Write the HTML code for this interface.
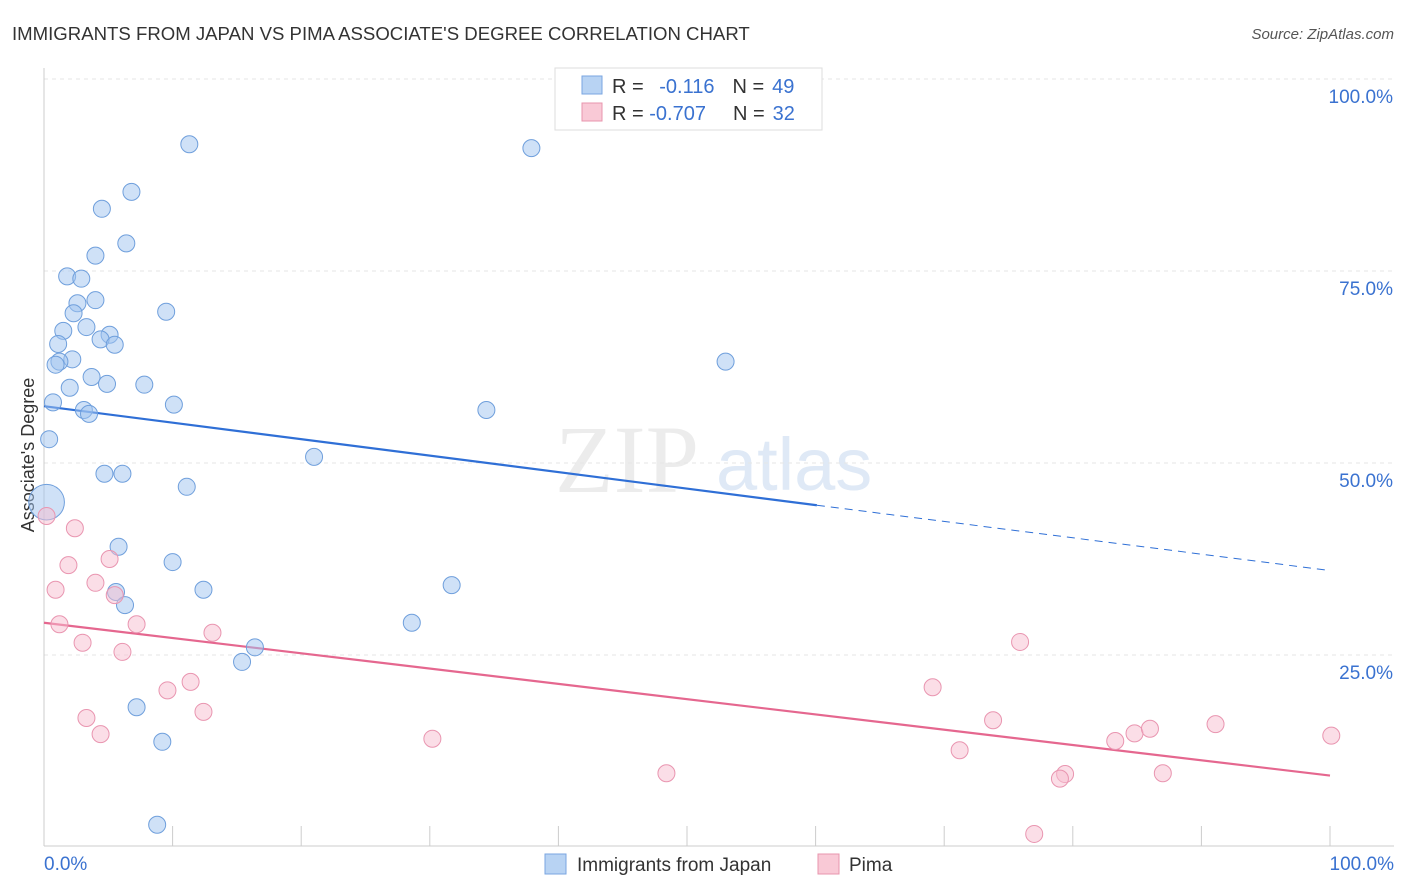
<!DOCTYPE html>
<html><head><meta charset="utf-8">
<style>
body{margin:0;background:#fff;font-family:"Liberation Sans",sans-serif;}
#wrap{position:relative;width:1406px;height:892px;overflow:hidden;}
</style></head>
<body>
<div id="wrap">
<svg id="chart" width="1406" height="892" xmlns="http://www.w3.org/2000/svg">
  <text x="12" y="40" font-size="18.6" fill="#333">IMMIGRANTS FROM JAPAN VS PIMA ASSOCIATE'S DEGREE CORRELATION CHART</text>
  <text x="1394" y="39" font-size="15" fill="#555" font-style="italic" text-anchor="end">Source: ZipAtlas.com</text>
  <text x="34" y="455" font-size="18" fill="#333" text-anchor="middle" transform="rotate(-90 34 455)">Associate's Degree</text>
  <g>
    <text x="555" y="492" font-size="96" fill="#ececec" font-family="Liberation Serif,serif">ZIP</text>
    <text x="716" y="490" font-size="74" fill="#dfe9f6">atlas</text>
  </g>
  <g id="grid"></g>
  <g id="axes"></g>
  <g id="trend"></g>
  <g id="points"></g>
  <g>
    <rect x="555" y="68" width="267" height="62" fill="#fff" stroke="#ddd"/>
    <rect x="582" y="76" width="20" height="18" fill="#b8d3f3" stroke="#7aa6e0"/>
    <text x="612" y="93" font-size="20" fill="#333">R = <tspan fill="#3a72d0" dx="10">-0.116</tspan><tspan fill="#333" dx="18">N =</tspan><tspan fill="#3a72d0" dx="8">49</tspan></text>
    <rect x="582" y="103" width="20" height="18" fill="#f9c9d6" stroke="#e895ad"/>
    <text x="612" y="120" font-size="20" fill="#333">R = <tspan fill="#3a72d0">-0.707</tspan><tspan fill="#333" dx="27">N =</tspan><tspan fill="#3a72d0" dx="8">32</tspan></text>
  </g>
  <g>
    <rect x="545" y="854" width="21" height="20" fill="#b8d3f3" stroke="#7aa6e0"/>
    <text x="577" y="871" font-size="19" fill="#333">Immigrants from Japan</text>
    <rect x="818" y="854" width="21" height="20" fill="#f9c9d6" stroke="#e895ad"/>
    <text x="849" y="871" font-size="19" fill="#333">Pima</text>
  </g>
</svg>
</div>
<script>
const japanX=[11.3,37.9,6.8,4.5,6.4,4.0,1.8,2.9,4.0,2.6,9.5,2.3,3.3,1.5,5.1,4.4,5.5,1.1,2.2,1.2,0.9,53.0,3.7,4.9,7.8,2.0,0.7,10.1,3.1,3.5,34.4,0.4,21.0,4.7,6.1,11.1,0.2,5.8,10.0,31.7,12.4,5.6,6.3,28.6,16.4,15.4,7.2,9.2,8.8];
const japanY=[91.5,91.0,85.3,83.1,78.6,77.0,74.3,74.0,71.2,70.8,69.7,69.5,67.7,67.2,66.7,66.1,65.4,65.5,63.5,63.2,62.8,63.2,61.2,60.3,60.2,59.8,57.9,57.6,56.9,56.4,56.9,53.1,50.8,48.6,48.6,46.9,44.9,39.1,37.1,34.1,33.5,33.2,31.5,29.2,26.0,24.1,18.2,13.7,2.9];
const japanSize=[1,1,1,1,1,1,1,1,1,1,1,1,1,1,1,1,1,1,1,1,1,1,1,1,1,1,1,1,1,1,1,1,1,1,1,1,2.1,1,1,1,1,1,1,1,1,1,1,1,1];
const pimaX=[0.2,2.4,1.9,5.1,0.9,4.0,5.5,1.2,7.2,13.1,3.0,6.1,11.4,9.6,12.4,3.3,4.4,30.2,48.4,69.1,75.9,73.8,71.2,79.4,79.0,77.0,83.3,84.8,86.0,87.0,91.1,100.1];
const pimaY=[43.1,41.5,36.7,37.5,33.5,34.4,32.8,29.0,29.0,27.9,26.6,25.4,21.5,20.4,17.6,16.8,14.7,14.1,9.6,20.8,26.7,16.5,12.6,9.5,8.9,1.7,13.8,14.8,15.4,9.6,16.0,14.5];
const japanTrend=[57.4,44.5,36.0];
const japanTrendX=[0,60.1,100];
const pimaTrend=[29.2,9.3];
const pimaTrendX=[0,100];
const yTicks=[25,50,75,100];
const yTickLabels=["25.0%","50.0%","75.0%","100.0%"];
const xTicks=[0,10,20,30,40,50,60,70,80,90,100];

const NS="http://www.w3.org/2000/svg";
const xs=v=>44+v*12.86;
const ys=v=>847-v*7.68;
function mk(tag,attrs,parent){const e=document.createElementNS(NS,tag);for(const k in attrs)e.setAttribute(k,attrs[k]);parent.appendChild(e);return e;}
const grid=document.getElementById('grid'),axes=document.getElementById('axes'),trend=document.getElementById('trend'),pts=document.getElementById('points');

yTicks.forEach((t,i)=>{
  const l=mk('line',{x1:44,x2:1394,y1:ys(t),y2:ys(t),stroke:'#e6e6e6','stroke-dasharray':'4,4'},grid);
  
  
  const tx=mk('text',{x:1393,y:ys(t)+24,'font-size':19,fill:'#3a72d0','text-anchor':'end'},axes);
  tx.textContent=yTickLabels[i];
  
  
});
const ya=mk('line',{x1:44,x2:44,y1:68,y2:846,stroke:'#ccc'},axes);


const xa=mk('line',{x1:44,x2:1394,y1:846,y2:846,stroke:'#ccc'},axes);


xTicks.forEach(t=>{
  const l=mk('line',{x1:xs(t),x2:xs(t),y1:826,y2:846,stroke:'#ccc'},axes);
  
  
});
const xl0=mk('text',{x:44,y:870,'font-size':19,fill:'#3a72d0'},axes);xl0.textContent='0.0%';


const xl1=mk('text',{x:1394,y:870,'font-size':19,fill:'#3a72d0','text-anchor':'end'},axes);xl1.textContent='100.0%';



japanX.forEach((x,i)=>{
  const c=mk('circle',{cx:xs(x),cy:ys(japanY[i]),r:8.5*japanSize[i],fill:'rgba(160,196,240,0.5)',stroke:'#6f9fdc','stroke-width':1},pts);
  
  
});
pimaX.forEach((x,i)=>{
  const c=mk('circle',{cx:xs(x),cy:ys(pimaY[i]),r:8.5,fill:'rgba(248,190,208,0.5)',stroke:'#e995b0','stroke-width':1},pts);
  
  
});
const jt=mk('line',{x1:xs(japanTrendX[0]),y1:ys(japanTrend[0]),x2:xs(japanTrendX[1]),y2:ys(japanTrend[1]),stroke:'#2f6fd6','stroke-width':2.2},trend);


const jd=mk('line',{x1:xs(japanTrendX[1]),y1:ys(japanTrend[1]),x2:xs(japanTrendX[2]),y2:ys(japanTrend[2]),stroke:'#2f6fd6','stroke-width':1,'stroke-dasharray':'8,6'},trend);


const pt=mk('line',{x1:xs(pimaTrendX[0]),y1:ys(pimaTrend[0]),x2:xs(pimaTrendX[1]),y2:ys(pimaTrend[1]),stroke:'#e5678f','stroke-width':2.2},trend);


</script>
</body></html>
